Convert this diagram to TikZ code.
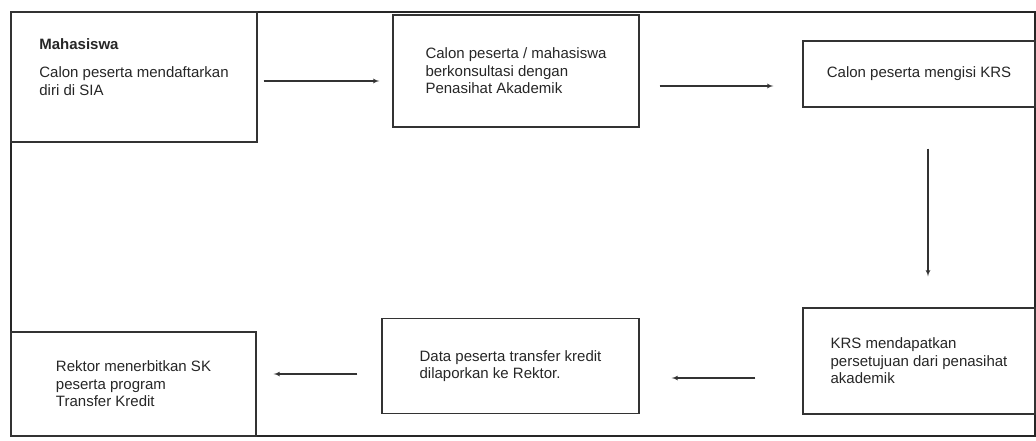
\documentclass[tikz,border=0pt]{standalone}
\usepackage{fontspec}
\setmainfont{Liberation Sans}
\usetikzlibrary{shapes,arrows}

\begin{document}
\begin{tikzpicture}
	\tikzstyle{common} = [draw=black!80, line width=1.3pt, text=black!85, font=\fontsize{15}{17.5}\selectfont, align=left, inner sep=0pt]
	\tikzstyle{block} = [rectangle, common, minimum width=246pt, minimum height=112pt]
	\tikzstyle{line} = [draw=black!80, line width=1.2pt, -latex']
	\useasboundingbox (0pt,0pt) rectangle (1036pt,-440pt);
	\draw[black!85, line width=2.2pt] (11pt,-12pt) rectangle (1035pt,-436pt);
	\node[block, minimum height=130pt, text depth=20pt] (daftar) at (134pt,-77pt) {\textbf{Mahasiswa}\\[11pt]Calon peserta mendaftarkan\\diri di SIA};
	\node[block, node distance=382pt, right of=daftar, yshift=6pt] (konsul) {Calon peserta / mahasiswa\\berkonsultasi dengan\\Penasihat Akademik};
	\node[block, minimum width=232pt, minimum height=66pt, node distance=403pt, right of=konsul, yshift=-3pt] (krs) {Calon peserta mengisi KRS};
	\node[block, minimum width=232pt, minimum height=106pt, node distance=287pt, below of=krs] (setuju) {KRS mendapatkan\\persetujuan dari penasihat\\akademik};
	\node[block, minimum width=257pt, minimum height=95pt, node distance=408.5pt, left of=setuju, yshift=-5pt] (lapor) {Data peserta transfer kredit\\dilaporkan ke Rektor.};
	\node[block, minimum width=245pt, minimum height=104pt, node distance=377pt, left of=lapor, yshift=-18pt] (sk) {Rektor menerbitkan SK\\peserta program\\Transfer Kredit};
	\draw[line, shorten <=6pt, shorten >=13pt] ([yshift=-4pt]daftar.east) -- ([yshift=-4pt]daftar.east -| konsul.west);
	\draw[line, shorten <=20pt, shorten >=29pt] ([yshift=-15pt]konsul.east) -- ([yshift=-15pt]konsul.east -| krs.west);
	\draw[line, shorten <=41pt, shorten >=31pt] ([xshift=9pt]krs.south) -- ([xshift=9pt]krs.south |- setuju.north);
	\draw[line, shorten <=47pt, shorten >=32pt] ([yshift=-17pt]setuju.west) -- ([yshift=-17pt]setuju.west -| lapor.east);
	\draw[line, shorten <=24pt, shorten >=17pt] ([yshift=-8pt]lapor.west) -- ([yshift=-8pt]lapor.west -| sk.east);
\end{tikzpicture}
\end{document}
